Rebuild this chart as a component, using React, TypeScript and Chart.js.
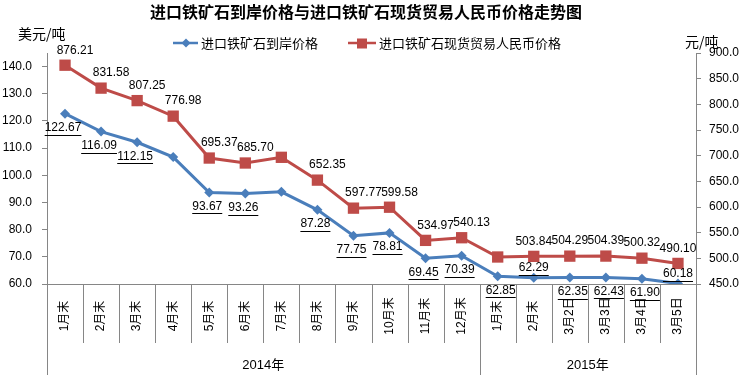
import React, { useEffect, useRef } from 'react';
import { Chart, registerables } from 'chart.js';

Chart.register(...registerables);

const categories = ['1月末', '2月末', '3月末', '4月末', '5月末', '6月末', '7月末', '8月末', '9月末', '10月末', '11月末', '12月末', '1月末', '2月末', '3月2日', '3月3日', '3月4日', '3月5日'];
const yearGroups = ['2014年', '2015年'];
const yearGroupSizes = [12, 6];
const usdPrices = [122.67, 116.09, 112.15, 106.7, 93.67, 93.26, 93.9, 87.28, 77.75, 78.81, 69.45, 70.39, 62.85, 62.29, 62.35, 62.43, 61.9, 60.18];
const rmbPrices = [876.21, 831.58, 807.25, 776.98, 695.37, 685.7, 696.8, 652.35, 597.77, 599.58, 534.97, 540.13, 502.6, 503.84, 504.29, 504.39, 500.32, 490.1];
const usdLabelHidden = [3, 6];
const rmbLabelHidden = [6, 12];
const usdLabelAbove = [13, 17];
const seriesNames = ['进口铁矿石到岸价格', '进口铁矿石现货贸易人民币价格'];
const titleText = '进口铁矿石到岸价格与进口铁矿石现货贸易人民币价格走势图';
const leftUnit = '美元/吨';
const rightUnit = '元/吨';

const BLUE = '#4A7EBB';
const RED = '#BE4B48';
const AXIS = '#868686';
const FONT = '"Liberation Sans", "Noto Sans CJK SC", sans-serif';
const CJK = '"Noto Sans CJK SC", "Liberation Sans", sans-serif';

function drawDiamond(ctx: CanvasRenderingContext2D, x: number, y: number, r: number, color: string) {
  ctx.beginPath();
  ctx.moveTo(x, y - r);
  ctx.lineTo(x + r, y);
  ctx.lineTo(x, y + r);
  ctx.lineTo(x - r, y);
  ctx.closePath();
  ctx.fillStyle = color;
  ctx.fill();
}

const decorPlugin = {
  id: 'decor',
  afterDatasetsDraw(chart: any) {
    const ctx: CanvasRenderingContext2D = chart.ctx;
    const area = chart.chartArea;
    ctx.save();
    // data labels
    ctx.font = '12px ' + FONT;
    ctx.fillStyle = '#000';
    ctx.textAlign = 'center';
    ctx.textBaseline = 'middle';
    const mBlue = chart.getDatasetMeta(0);
    const mRed = chart.getDatasetMeta(1);
    mRed.data.forEach((pt: any, j: number) => {
      if (rmbLabelHidden.includes(j)) return;
      const dx = j < 12 ? 10 : 0;
      ctx.fillText(rmbPrices[j].toFixed(2), pt.x + dx, pt.y - 15);
    });
    mBlue.data.forEach((pt: any, j: number) => {
      if (usdLabelHidden.includes(j)) return;
      const txt = usdPrices[j].toFixed(2);
      const above = usdLabelAbove.includes(j);
      const dx = j < 12 ? -2 : 3;
      const x = pt.x + (above ? 0 : dx);
      const y = above ? pt.y - 10 : pt.y + 14;
      ctx.fillText(txt, x, y);
      const w = ctx.measureText(txt).width;
      ctx.beginPath();
      ctx.strokeStyle = '#000';
      ctx.lineWidth = 1;
      ctx.moveTo(x - w / 2, Math.round(y + 7) + 0.5);
      ctx.lineTo(x + w / 2, Math.round(y + 7) + 0.5);
      ctx.stroke();
    });
    ctx.restore();
  },
  afterDraw(chart: any) {
    const ctx: CanvasRenderingContext2D = chart.ctx;
    const area = chart.chartArea;
    ctx.save();
    // title
    ctx.fillStyle = '#000';
    ctx.font = 'bold 16px ' + CJK;
    ctx.textAlign = 'center';
    ctx.textBaseline = 'middle';
    ctx.fillText(titleText, 366, 12);
    // units
    ctx.font = '14px ' + CJK;
    ctx.textAlign = 'left';
    ctx.fillText(leftUnit, 18, 34);
    ctx.fillText(rightUnit, 685, 42);
    // legend
    ctx.lineWidth = 2.5;
    ctx.strokeStyle = BLUE;
    ctx.beginPath();
    ctx.moveTo(173, 43);
    ctx.lineTo(198, 43);
    ctx.stroke();
    drawDiamond(ctx, 186, 43, 4.5, BLUE);
    ctx.strokeStyle = RED;
    ctx.beginPath();
    ctx.moveTo(348, 43);
    ctx.lineTo(376, 43);
    ctx.stroke();
    ctx.fillStyle = RED;
    ctx.fillRect(357, 38.5, 10, 10);
    ctx.fillStyle = '#000';
    ctx.font = '13px ' + CJK;
    ctx.fillText(seriesNames[0], 201, 43);
    ctx.fillText(seriesNames[1], 379, 43);

    // x axis categories
    const xs = chart.scales.x;
    const n = categories.length;
    const cw = (area.right - area.left) / n;
    ctx.font = '12px ' + FONT;
    ctx.textAlign = 'center';
    ctx.textBaseline = 'middle';
    categories.forEach((c, i) => {
      const cx = xs.getPixelForValue(i);
      ctx.save();
      ctx.translate(cx, 316);
      ctx.rotate(-Math.PI / 2);
      ctx.fillText(c, 0, 0);
      ctx.restore();
    });
    // separators
    const boundaries: number[] = [0];
    let acc = 0;
    yearGroupSizes.forEach((s) => { acc += s; boundaries.push(acc); });
    ctx.strokeStyle = AXIS;
    ctx.lineWidth = 1;
    for (let k = 0; k <= n; k++) {
      const x = Math.round(area.left + k * cw) + 0.5;
      const full = boundaries.includes(k);
      ctx.beginPath();
      ctx.moveTo(x, area.bottom);
      ctx.lineTo(x, full ? 375 : 343);
      ctx.stroke();
    }
    // year labels
    ctx.font = '13px ' + FONT;
    yearGroups.forEach((g, gi) => {
      const x0 = area.left + boundaries[gi] * cw;
      const x1 = area.left + boundaries[gi + 1] * cw;
      ctx.fillText(g, (x0 + x1) / 2, 365);
    });
    ctx.restore();
  },
};

export default function App() {
  const ref = useRef<HTMLCanvasElement>(null);
  useEffect(() => {
    if (!ref.current) return;
    const chart = new Chart(ref.current, {
      type: 'line',
      data: {
        labels: categories,
        datasets: [
          {
            label: seriesNames[0],
            data: usdPrices,
            yAxisID: 'y',
            borderColor: BLUE,
            backgroundColor: BLUE,
            borderWidth: 3,
            pointStyle: 'rectRot',
            pointRadius: 5,
            pointBorderWidth: 0,
            tension: 0,
          },
          {
            label: seriesNames[1],
            data: rmbPrices,
            yAxisID: 'y1',
            borderColor: RED,
            backgroundColor: RED,
            borderWidth: 3,
            pointStyle: 'rect',
            pointRadius: 8,
            pointBorderWidth: 0,
            tension: 0,
          },
        ],
      },
      options: {
        responsive: false,
        animation: false,
        layout: { padding: { top: 53, left: 0, right: 0, bottom: 0 } },
        plugins: { legend: { display: false }, title: { display: false }, tooltip: { enabled: false } },
        scales: {
          x: {
            type: 'category',
            offset: true,
            grid: { display: false },
            border: { display: true, color: AXIS },
            ticks: { display: false },
            afterFit: (s: any) => { s.height = 91; },
          },
          y: {
            position: 'left',
            min: 60,
            max: 145,
            ticks: {
              stepSize: 10,
              color: '#000',
              font: { size: 12, family: FONT },
              padding: 10,
              callback: (v: any) => Number(v).toFixed(1),
            },
            grid: { drawOnChartArea: false, drawTicks: true, tickLength: 5, color: AXIS },
            border: { display: true, color: AXIS },
            afterBuildTicks: (s: any) => { s.ticks = s.ticks.filter((t: any) => t.value <= 140); },
            afterFit: (s: any) => { s.width = 47; },
          },
          y1: {
            position: 'right',
            min: 450,
            max: 900,
            ticks: {
              stepSize: 50,
              color: '#000',
              font: { size: 12, family: FONT },
              padding: 8,
              callback: (v: any) => Number(v).toFixed(1),
            },
            grid: { drawOnChartArea: false, drawTicks: true, tickLength: 5, color: AXIS },
            border: { display: true, color: AXIS },
            afterFit: (s: any) => { s.width = 48; },
          },
        },
      },
      plugins: [decorPlugin],
    } as any);
    return () => chart.destroy();
  }, []);
  return (
    <div style={{ position: 'absolute', left: 0, top: 0, width: 744, height: 375, background: '#fff' }}>
      <canvas ref={ref} width={744} height={375} style={{ width: 744, height: 375, display: 'block' }} />
    </div>
  );
}
